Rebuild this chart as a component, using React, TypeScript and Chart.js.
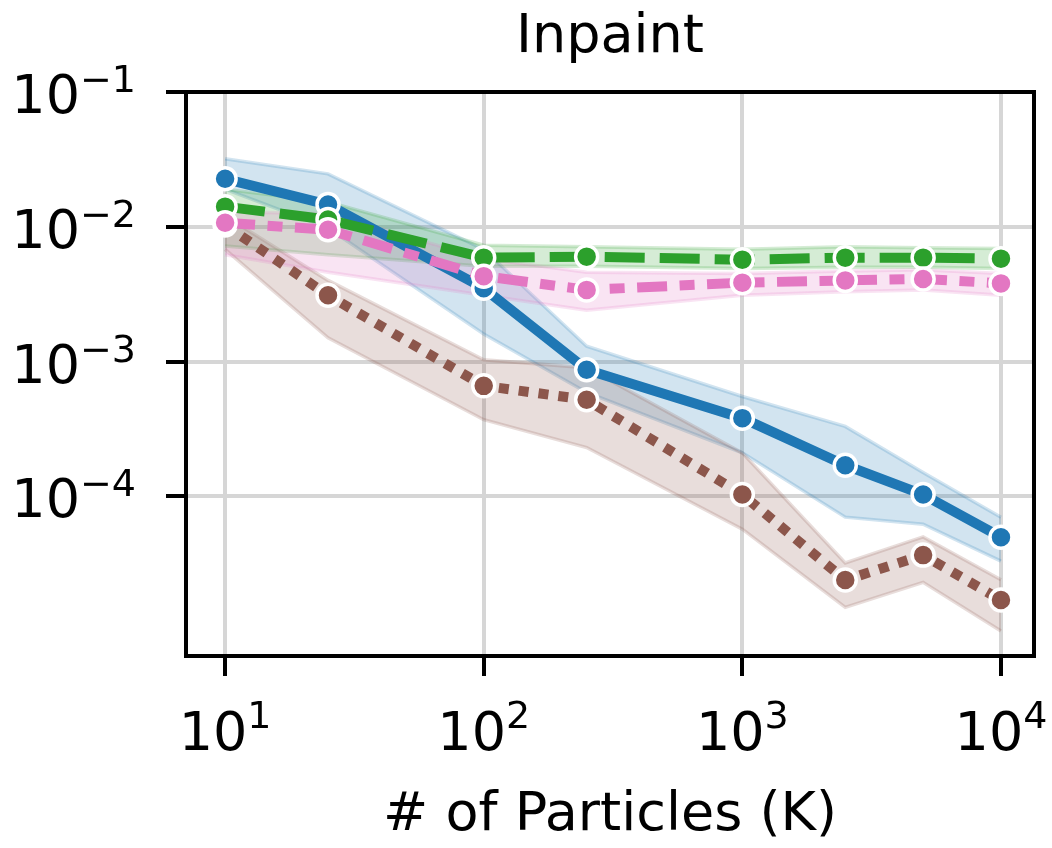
import React, { useEffect, useRef } from "react";
import { Chart, registerables } from "chart.js";

Chart.register(...registerables);

const particles = [10, 25, 100, 250, 1000, 2500, 5000, 10000];

const blueMean = [0.0227, 0.0146, 0.0035, 0.00087, 0.00038, 0.00017, 0.000103, 0.0000497];
const blueHigh = [0.032, 0.0247, 0.0068, 0.0013, 0.00055, 0.00033, 0.00015, 0.00007];
const blueLow = [0.019, 0.0098, 0.0016, 0.00059, 0.00021, 0.00007, 0.000062, 0.000033];

const brownMean = [0.0103, 0.0031, 0.00066, 0.00052, 0.000103, 0.0000239, 0.0000366, 0.000017];
const brownHigh = [0.012, 0.004, 0.00103, 0.0009, 0.00021, 0.000032, 0.00005, 0.000024];
const brownLow = [0.0068, 0.0015, 0.00037, 0.00023, 0.000057, 0.000015, 0.000023, 0.00001];

const greenMean = [0.0141, 0.0113, 0.0059, 0.006, 0.0057, 0.0059, 0.0059, 0.0058];
const greenHigh = [0.019, 0.0153, 0.0073, 0.0071, 0.0068, 0.0071, 0.007, 0.0069];
const greenLow = [0.0072, 0.0062, 0.0051, 0.0051, 0.0049, 0.005, 0.005, 0.0049];

const pinkMean = [0.0107, 0.0095, 0.0043, 0.0034, 0.00385, 0.004, 0.0041, 0.0038];
const pinkHigh = [0.0129, 0.0125, 0.0058, 0.0046, 0.0045, 0.0047, 0.0048, 0.0045];
const pinkLow = [0.0062, 0.0046, 0.0031, 0.0024, 0.0031, 0.0033, 0.0034, 0.0031];

const xTicks = [10, 100, 1000, 10000];
const yTicks = [1e-4, 1e-3, 1e-2, 1e-1];

const titleText = "Inpaint";
const xLabel = "# of Particles (K)";

const FONT = "'DejaVu Sans', sans-serif";

type Series = { rgb: string; mean: number[]; high: number[]; low: number[]; dash: number[] };

const series: Series[] = [
  { rgb: "31,119,180", mean: blueMean, high: blueHigh, low: blueLow, dash: [] },
  { rgb: "140,86,75", mean: brownMean, high: brownHigh, low: brownLow, dash: [10, 10] },
  { rgb: "44,160,44", mean: greenMean, high: greenHigh, low: greenLow, dash: [40, 15] },
  { rgb: "227,119,194", mean: pinkMean, high: pinkHigh, low: pinkLow, dash: [30, 12.5, 15, 12.5] },
];

const toPts = (ys: number[]) => particles.map((x, i) => ({ x, y: ys[i] }));

const textPlugin = {
  id: "textPlugin",
  afterDraw(chart: any) {
    const ctx = chart.ctx;
    const xs = chart.scales.x;
    const ys = chart.scales.y;
    const area = chart.chartArea;
    const base = `54px ${FONT}`;
    const sup = `38px ${FONT}`;
    ctx.save();
    ctx.fillStyle = "#000";
    ctx.textBaseline = "alphabetic";
    // title centred over the plot area
    ctx.textAlign = "center";
    ctx.font = base;
    ctx.fillText(titleText, (area.left + area.right) / 2, 52);
    ctx.textAlign = "left";
    xTicks.forEach((v) => {
      const exp = String(Math.round(Math.log10(v)));
      const px = xs.getPixelForValue(v);
      ctx.font = base;
      const w1 = ctx.measureText("10").width;
      ctx.font = sup;
      const w2 = ctx.measureText(exp).width;
      const x0 = px - (w1 + w2) / 2;
      const by = area.bottom + 94;
      ctx.font = base;
      ctx.fillText("10", x0, by);
      ctx.font = sup;
      ctx.fillText(exp, x0 + w1, by - 22);
    });
    yTicks.forEach((v) => {
      const e = Math.round(Math.log10(v));
      const exp = (e < 0 ? "\u2212" : "") + String(Math.abs(e));
      const py = ys.getPixelForValue(v);
      ctx.font = base;
      const w1 = ctx.measureText("10").width;
      ctx.font = sup;
      const w2 = ctx.measureText(exp).width;
      const right = area.left - 50;
      const x0 = right - w1 - w2;
      const by = py + 21;
      ctx.font = base;
      ctx.fillText("10", x0, by);
      ctx.font = sup;
      ctx.fillText(exp, x0 + w1, by - 21);
    });
    ctx.restore();
  },
};

const spines = {
  id: "spines",
  afterDatasetsDraw(chart: any) {
    const { ctx, chartArea: a } = chart;
    ctx.save();
    ctx.strokeStyle = "#000";
    ctx.lineWidth = 4;
    ctx.strokeRect(a.left, a.top, a.right - a.left, a.bottom - a.top);
    ctx.restore();
  },
};

export default function App() {
  const ref = useRef<HTMLCanvasElement | null>(null);

  useEffect(() => {
    if (!ref.current) return;
    const datasets: any[] = [];
    series.forEach((s, k) => {
      datasets.push({
        data: toPts(s.high),
        borderColor: `rgba(${s.rgb},0.2)`,
        borderWidth: 3.5,
        backgroundColor: "transparent",
        pointRadius: 0,
        fill: false,
        order: 100 - k,
      });
      datasets.push({
        data: toPts(s.low),
        borderColor: `rgba(${s.rgb},0.2)`,
        borderWidth: 3.5,
        backgroundColor: `rgba(${s.rgb},0.2)`,
        pointRadius: 0,
        fill: "-1",
        order: 100 - k,
      });
    });
    series.forEach((s, k) => {
      datasets.push({
        data: toPts(s.mean),
        borderColor: `rgb(${s.rgb})`,
        borderWidth: 10,
        borderDash: s.dash,
        borderCapStyle: "butt",
        borderJoinStyle: "round",
        pointRadius: 11,
        pointBorderWidth: 3.5,
        pointBorderColor: "#fff",
        pointBackgroundColor: `rgb(${s.rgb})`,
        fill: false,
        order: 10 - k,
      });
    });

    const chart = new Chart(ref.current, {
      type: "line",
      data: { datasets },
      options: {
        animation: false,
        responsive: false,
        devicePixelRatio: 1,
        layout: { padding: { left: 0, right: 18, top: 92, bottom: 0 } },
        elements: { line: { tension: 0 } },
        plugins: {
          legend: { display: false },
          tooltip: { enabled: false },
          title: { display: false },
        },
        scales: {
          x: {
            type: "logarithmic",
            min: 7.06,
            max: 13419,
            bounds: "data",
            afterBuildTicks: (s: any) => {
              s.ticks = xTicks.map((v) => ({ value: v }));
            },
            afterFit: (s: any) => {
              s.height = 192;
            },
            ticks: { display: false },
            grid: {
              color: "#d6d6d6",
              lineWidth: 4,
              tickColor: "#000",
              tickWidth: 4,
              tickLength: 20,
              drawTicks: true,
            },
            border: { display: false },
            title: {
              display: true,
              text: xLabel,
              color: "#000",
              font: { family: FONT, size: 54 },
              padding: { top: 0, bottom: 0 },
            },
          },
          y: {
            type: "logarithmic",
            min: 6.53e-6,
            max: 0.1,
            bounds: "data",
            afterBuildTicks: (s: any) => {
              s.ticks = yTicks.map((v) => ({ value: v }));
            },
            afterFit: (s: any) => {
              s.width = 186;
            },
            ticks: { display: false },
            grid: {
              color: "#d6d6d6",
              lineWidth: 4,
              tickColor: "#000",
              tickWidth: 4,
              tickLength: 20,
              drawTicks: true,
            },
            border: { display: false },
          },
        },
      },
      plugins: [spines, textPlugin],
    } as any);
    return () => chart.destroy();
  }, []);

  return (
    <div style={{ position: "fixed", left: 0, top: 0, width: 1052, height: 848, background: "#fff" }}>
      <canvas ref={ref} width={1052} height={848} style={{ width: 1052, height: 848 }} />
    </div>
  );
}
